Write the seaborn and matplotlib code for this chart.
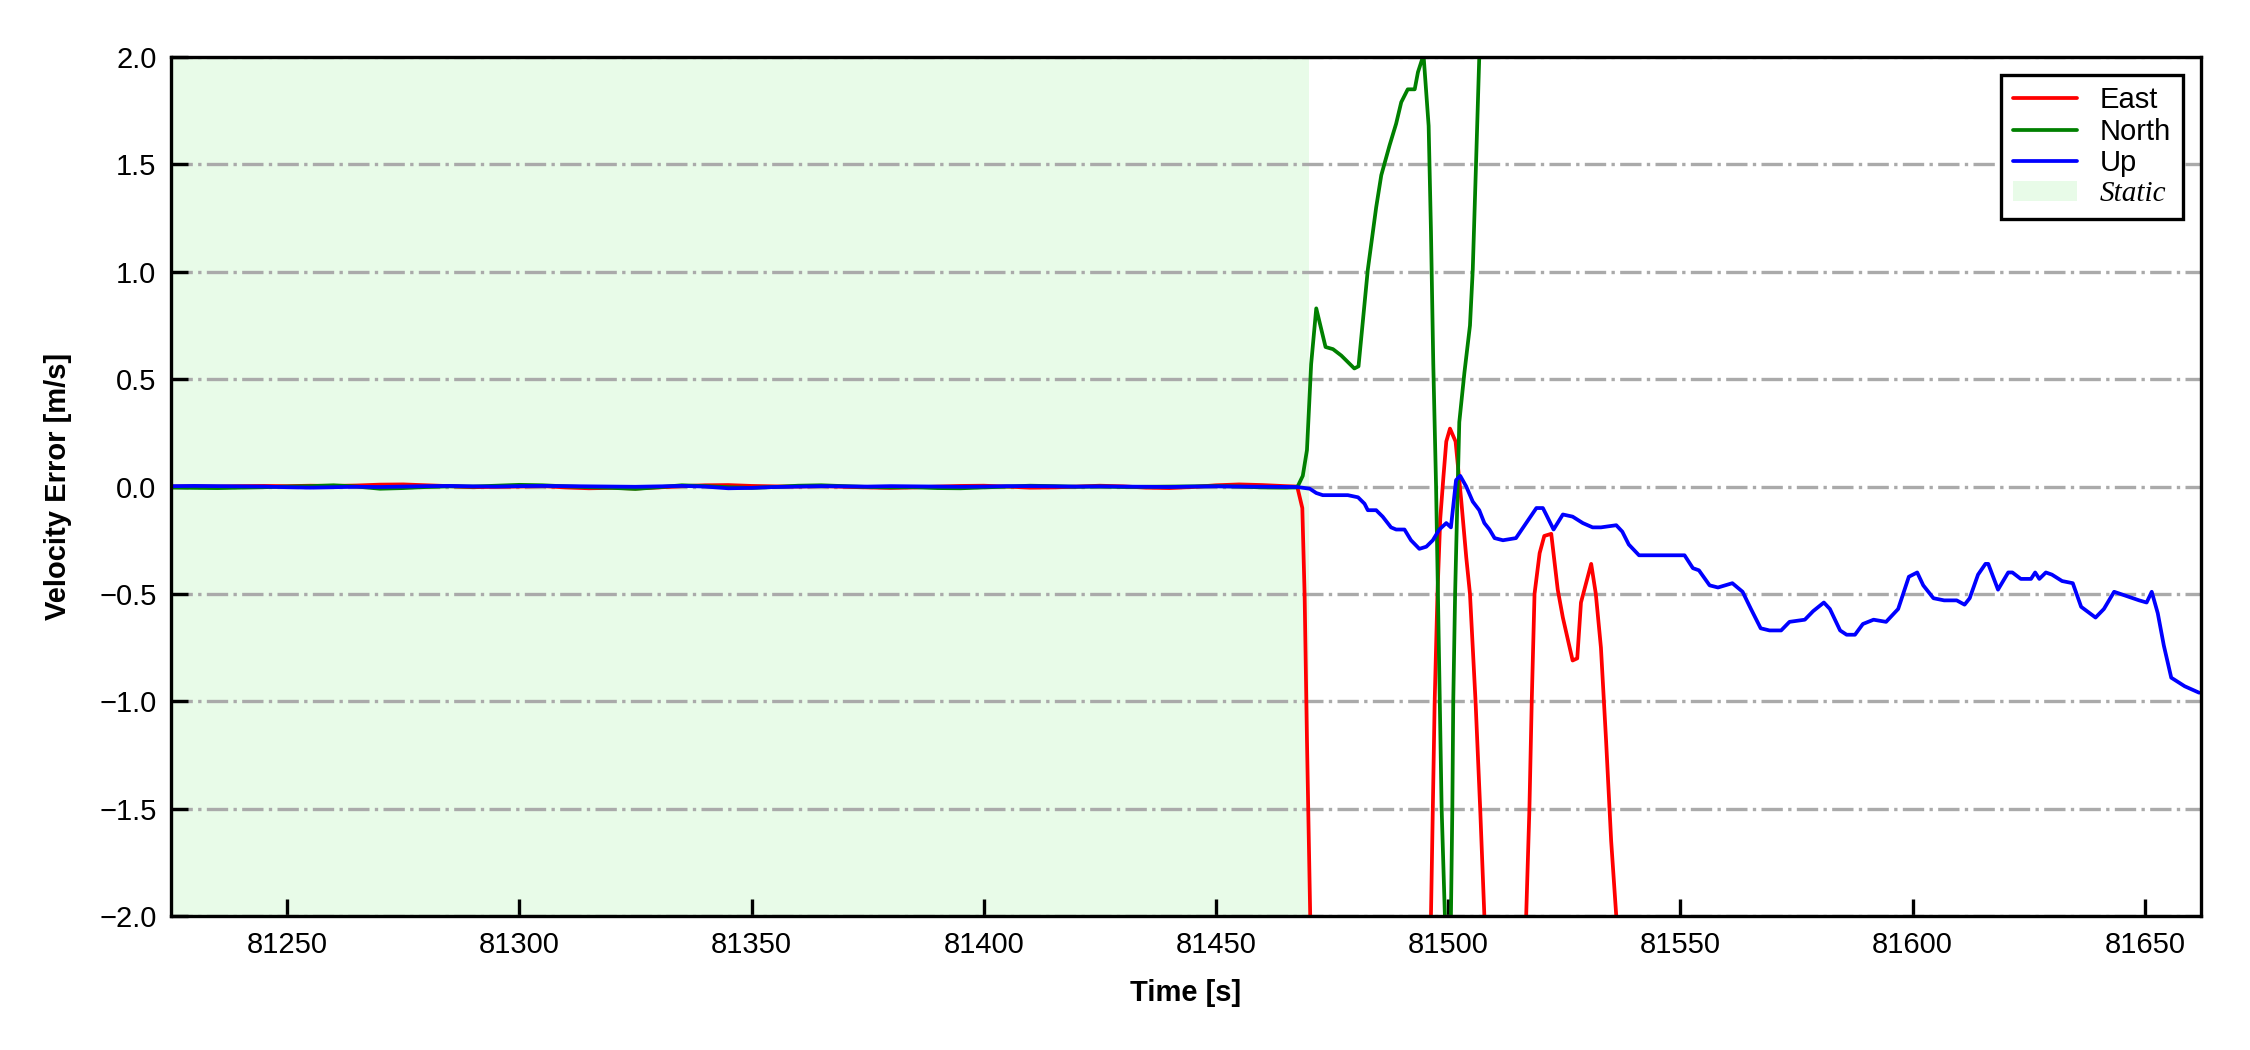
import pandas as pd
import seaborn as sns
import matplotlib.pyplot as plt
from matplotlib.lines import Line2D
from matplotlib.patches import Patch

# Static period samples (every 5 s)
static_time = [81225, 81230, 81235, 81240, 81245, 81250, 81255, 81260, 81265, 81270,
               81275, 81280, 81285, 81290, 81295, 81300, 81305, 81310, 81315, 81320,
               81325, 81330, 81335, 81340, 81345, 81350, 81355, 81360, 81365, 81370,
               81375, 81380, 81385, 81390, 81395, 81400, 81405, 81410, 81415, 81420,
               81425, 81430, 81435, 81440, 81445, 81450, 81455, 81460, 81465]
east_static = [0.000, 0.001, 0.000, 0.002, 0.003, 0.002, 0.004, 0.003, 0.005, 0.009,
               0.010, 0.006, 0.002, -0.003, -0.001, 0.000, 0.002, -0.004, -0.008, -0.006,
               -0.009, -0.004, 0.002, 0.006, 0.007, 0.003, 0.001, 0.000, 0.002, -0.001,
               -0.004, -0.006, -0.004, 0.000, 0.003, 0.004, 0.000, -0.005, -0.004, 0.000,
               0.004, 0.001, -0.005, -0.007, -0.002, 0.006, 0.010, 0.007, 0.002]
north_static = [-0.004, -0.006, -0.007, -0.005, -0.003, 0.000, 0.002, 0.006, 0.000, -0.010,
                -0.007, -0.002, 0.001, 0.000, 0.004, 0.008, 0.006, 0.001, -0.003, -0.006,
                -0.011, -0.003, 0.006, 0.002, -0.003, -0.006, -0.002, 0.004, 0.006, 0.002,
                -0.002, -0.004, -0.003, -0.007, -0.008, -0.004, 0.000, 0.004, 0.002, -0.001,
                0.000, -0.002, -0.001, 0.000, 0.001, 0.002, 0.000, -0.004, -0.005]
up_static = [0.002, 0.003, 0.002, 0.001, 0.000, -0.003, -0.005, -0.003, -0.001, -0.002,
             0.000, 0.002, 0.003, 0.001, 0.000, 0.002, 0.003, 0.002, 0.001, 0.000,
             -0.001, 0.001, 0.003, 0.000, -0.008, -0.006, -0.002, 0.000, 0.002, 0.001,
             0.000, 0.002, 0.001, 0.000, -0.001, 0.000, 0.002, 0.002, 0.001, 0.000,
             0.001, 0.000, -0.001, -0.002, 0.000, 0.001, 0.000, -0.001, -0.002]

# Dynamic period
east_time = [81467.5, 81468.6, 81469.1, 81469.6, 81470.3, 81471.0, 81480.0, 81490.0, 81495.5,
             81496.3, 81497.1, 81497.7, 81498.3, 81499.0, 81499.6, 81500.4, 81501.6, 81502.8,
             81503.9, 81504.7, 81505.9, 81506.9, 81507.8, 81508.5, 81512.0, 81516.0, 81516.8,
             81517.5, 81518.0, 81518.6, 81519.7, 81520.7, 81522.2, 81523.6, 81524.7, 81526.8,
             81527.8, 81528.6, 81530.8, 81531.8, 81532.9, 81534.0, 81535.1, 81536.2, 81537.0,
             81545.0, 81560.0]
east_vel = [0.000, -0.10, -0.51, -1.18, -2.00, -2.80, -3.50, -3.20, -2.70,
            -2.00, -1.00, -0.50, -0.15, 0.05, 0.21, 0.27, 0.21, -0.06,
            -0.33, -0.50, -1.00, -1.50, -2.00, -2.60, -3.00, -2.60, -2.00,
            -1.50, -1.00, -0.50, -0.31, -0.23, -0.22, -0.48, -0.61, -0.81,
            -0.80, -0.54, -0.36, -0.50, -0.75, -1.18, -1.65, -2.00, -2.60,
            -3.50, -4.00]

north_time = [81467.5, 81468.7, 81469.6, 81470.5, 81471.6, 81473.6, 81475.2, 81477.0, 81478.4,
              81479.8, 81480.7, 81482.7, 81484.5, 81485.6, 81487.4, 81488.8, 81489.9, 81491.3,
              81492.8, 81493.5, 81494.7, 81495.8, 81496.3, 81496.8, 81497.4, 81497.8, 81498.2,
              81498.6, 81499.3, 81499.9, 81500.6, 81500.9, 81501.1, 81501.5, 81502.0, 81502.4,
              81503.5, 81504.7, 81505.3, 81506.0, 81506.7, 81507.5, 81510.0]
north_vel = [-0.004, 0.05, 0.17, 0.57, 0.83, 0.65, 0.64, 0.61, 0.58,
             0.55, 0.56, 1.01, 1.30, 1.45, 1.59, 1.69, 1.79, 1.85,
             1.85, 1.93, 2.01, 1.68, 1.19, 0.57, 0.00, -0.50, -1.00,
             -1.50, -2.00, -2.50, -2.00, -1.50, -1.00, -0.50, -0.05, 0.30,
             0.53, 0.75, 1.01, 1.50, 2.00, 2.60, 3.50]

up_time = [81467.5, 81470.2, 81471.6, 81473.0, 81475.2, 81478.4, 81480.6, 81482.0, 81482.7,
           81484.5, 81485.9, 81487.7, 81488.8, 81490.6, 81492.0, 81493.8, 81495.3, 81496.7,
           81498.1, 81499.6, 81500.6, 81501.7, 81502.6, 81503.9, 81505.3, 81506.7, 81507.8,
           81508.9, 81510.0, 81511.8, 81514.6, 81516.8, 81519.0, 81520.4, 81521.1, 81522.7,
           81524.7, 81526.8, 81529.0, 81531.1, 81532.9, 81536.2, 81537.5, 81538.9, 81541.1,
           81546.0, 81550.9, 81552.7, 81554.0, 81556.3, 81558.1, 81561.2, 81563.4, 81565.2,
           81567.3, 81569.2, 81571.7, 81573.5, 81576.8, 81578.6, 81580.9, 81582.2, 81584.4,
           81585.8, 81587.6, 81589.3, 81591.6, 81594.3, 81595.6, 81596.9, 81599.2, 81601.0,
           81602.3, 81604.5, 81606.8, 81609.5, 81611.2, 81612.3, 81614.1, 81615.7, 81616.3,
           81618.4, 81620.6, 81621.5, 81623.3, 81625.5, 81626.4, 81627.3, 81628.7, 81630.0,
           81632.2, 81634.5, 81636.3, 81639.4, 81641.2, 81643.4, 81646.1, 81648.8, 81650.4,
           81651.5, 81652.8, 81654.1, 81655.7, 81658.6, 81661.7]
up_vel = [-0.002, -0.01, -0.03, -0.04, -0.04, -0.04, -0.05, -0.08, -0.11,
          -0.11, -0.14, -0.19, -0.20, -0.20, -0.25, -0.29, -0.28, -0.25,
          -0.20, -0.17, -0.19, 0.03, 0.05, 0.00, -0.07, -0.11, -0.17,
          -0.20, -0.24, -0.25, -0.24, -0.17, -0.10, -0.10, -0.13, -0.20,
          -0.13, -0.14, -0.17, -0.19, -0.19, -0.18, -0.21, -0.27, -0.32,
          -0.32, -0.32, -0.38, -0.39, -0.46, -0.47, -0.45, -0.49, -0.57,
          -0.66, -0.67, -0.67, -0.63, -0.62, -0.58, -0.54, -0.57, -0.67,
          -0.69, -0.69, -0.64, -0.62, -0.63, -0.60, -0.57, -0.42, -0.40,
          -0.46, -0.52, -0.53, -0.53, -0.55, -0.52, -0.41, -0.36, -0.36,
          -0.48, -0.40, -0.40, -0.43, -0.43, -0.40, -0.43, -0.40, -0.41,
          -0.44, -0.45, -0.56, -0.61, -0.57, -0.49, -0.51, -0.53, -0.54,
          -0.49, -0.59, -0.74, -0.89, -0.93, -0.96]

static_start = 81225
static_end = 81470

series = [
    ("East", east_static, east_time, east_vel),
    ("North", north_static, north_time, north_vel),
    ("Up", up_static, up_time, up_vel),
]
frames = []
for name, v_static, t_dyn, v_dyn in series:
    frames.append(pd.DataFrame({
        "Time": static_time + t_dyn,
        "Error": v_static + v_dyn,
        "Axis": name,
    }))
df = pd.concat(frames, ignore_index=True)

colors = {"East": "red", "North": "green", "Up": "blue"}

sns.set_theme(style="ticks")
plt.rcParams["font.family"] = ["Liberation Sans", "DejaVu Sans"]
plt.rcParams["text.color"] = "black"
plt.rcParams["axes.labelcolor"] = "black"

fig = plt.figure(figsize=(7.5, 3.5), dpi=300)
ax = fig.add_axes([0.076, 0.1276, 0.902, 0.818])

ax.axvspan(static_start, static_end, color="lightgreen", alpha=0.2, lw=0, zorder=0)

sns.lineplot(data=df, x="Time", y="Error", hue="Axis", hue_order=["East", "North", "Up"],
             palette=colors, estimator=None, sort=True, lw=0.9, legend=False, ax=ax)

ax.set_xlim(81225, 81662)
ax.set_ylim(-2.0, 2.0)
ax.set_xticks([81250, 81300, 81350, 81400, 81450, 81500, 81550, 81600, 81650])
ax.set_yticks([-2.0, -1.5, -1.0, -0.5, 0.0, 0.5, 1.0, 1.5, 2.0])
ax.yaxis.grid(True, linestyle="-.", color="#aaaaaa", lw=0.8)
ax.set_axisbelow(True)

ax.tick_params(direction="in", length=4, width=0.8, labelsize=7, colors="black")
for sp in ax.spines.values():
    sp.set_linewidth(0.8)
    sp.set_color("black")

ax.set_xlabel("Time [s]", fontsize=7, fontweight="bold", labelpad=5)
ax.set_ylabel("Velocity Error [m/s]", fontsize=7, fontweight="bold", labelpad=6.5)

handles = [
    Line2D([], [], color="red", lw=0.9, label="East"),
    Line2D([], [], color="green", lw=0.9, label="North"),
    Line2D([], [], color="blue", lw=0.9, label="Up"),
    Patch(facecolor="lightgreen", alpha=0.2, edgecolor="none", label="Static"),
]
leg = ax.legend(handles=handles, loc="upper right", fontsize=7, fancybox=False,
                framealpha=1, edgecolor="black", labelspacing=0.12, handlelength=2.2,
                borderaxespad=0.6)
leg.get_frame().set_linewidth(0.8)
leg.get_texts()[3].set_fontfamily("Liberation Serif")
leg.get_texts()[3].set_fontstyle("italic")

fig.savefig("out.png", dpi=300)
plt.close(fig)
